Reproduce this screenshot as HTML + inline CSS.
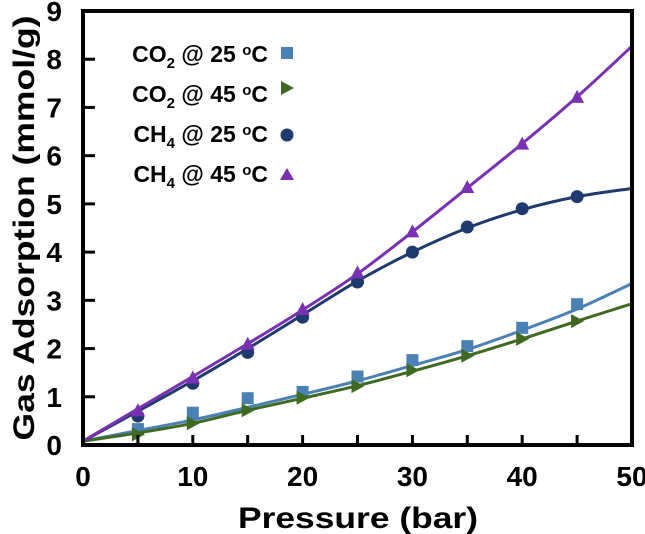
<!DOCTYPE html>
<html><head><meta charset="utf-8"><style>
body{margin:0;background:#fff}
svg{display:block;font-family:"Liberation Sans",Arial,sans-serif;font-weight:bold}
</style></head><body>
<svg id="c" width="645" height="534"></svg>
<script>
const xTicks=[0,10,20,30,40,50];
const yTicks=[0,1,2,3,4,5,6,7,8,9];
const pX=[5,10,15,20,25,30,35,40,45];
const fitX=[0,5,10,15,20,25,30,35,40,45,50];
const co2_25=[0.33,0.67,0.97,1.1,1.42,1.76,2.05,2.43,2.92];
const co2_45=[0.22,0.45,0.72,0.98,1.22,1.55,1.85,2.2,2.57];
const ch4_25=[0.6,1.28,1.92,2.65,3.38,4.0,4.52,4.9,5.15];
const ch4_45=[0.72,1.4,2.1,2.82,3.58,4.43,5.35,6.25,7.22];
const co2_25fit=[0.08,0.3,0.52,0.78,1.05,1.33,1.65,1.98,2.38,2.82,3.35];
const co2_45fit=[0.08,0.25,0.45,0.72,0.97,1.23,1.53,1.85,2.2,2.57,2.93];
const ch4_25fit=[0.08,0.7,1.33,2.0,2.7,3.4,4.0,4.5,4.88,5.15,5.32];
const ch4_45fit=[0.08,0.75,1.42,2.1,2.8,3.55,4.42,5.33,6.25,7.22,8.27];
const L=83,R=632,T=11,B=445;
const sx=v=>L+(v-0)/50*(R-L);
const sy=v=>B-v/9*(B-T);
const svg=document.getElementById('c');
const NS='http://www.w3.org/2000/svg';
function mk(t,a,p){const e=document.createElementNS(NS,t);for(const k in a)e.setAttribute(k,a[k]);(p||svg).appendChild(e);return e;}
function spline(xs,ys){const P=xs.map((x,i)=>[sx(x),sy(ys[i])]);let d='M'+P[0][0]+','+P[0][1];
for(let i=0;i<P.length-1;i++){const p0=P[Math.max(i-1,0)],p1=P[i],p2=P[i+1],p3=P[Math.min(i+2,P.length-1)];
d+=' C'+(p1[0]+(p2[0]-p0[0])/6)+','+(p1[1]+(p2[1]-p0[1])/6)+' '+(p2[0]-(p3[0]-p1[0])/6)+','+(p2[1]-(p3[1]-p1[1])/6)+' '+p2[0]+','+p2[1];}return d;}
function marker(type,x,y,col,g){
 if(type==='sq')return mk('rect',{x:x-6,y:y-6,width:12,height:12,fill:col},g);
 if(type==='ci')return mk('circle',{cx:x,cy:y,r:6.5,fill:col},g);
 if(type==='tr')return mk('polygon',{points:`${x-6},${y-7} ${x+7},${y} ${x-6},${y+7}`,fill:col},g);
 return mk('polygon',{points:`${x},${y-7} ${x+7},${y+6} ${x-7},${y+6}`,fill:col},g);}
const series=[
 {n:'co2-25c',pts:co2_25,fit:co2_25fit,col:'#4a80b3',m:'sq'},
 {n:'co2-45c',pts:co2_45,fit:co2_45fit,col:'#3f6a22',m:'tr'},
 {n:'ch4-25c',pts:ch4_25,fit:ch4_25fit,col:'#1f3a6e',m:'ci'},
 {n:'ch4-45c',pts:ch4_45,fit:ch4_45fit,col:'#7a30b2',m:'up'}];
series.forEach(s=>{
 const g=mk('g',{});
 
 
 pX.forEach((x,i)=>{const m=marker(s.m,sx(x),sy(s.pts[i]),s.col,g);
  
  });
 const p=mk('path',{d:spline(fitX,s.fit),fill:'none',stroke:s.col,'stroke-width':3},g);
 
 
});
const fr=mk('rect',{x:L,y:T,width:R-L,height:B-T,fill:'none',stroke:'#000','stroke-width':4});


for(let v=5;v<50;v+=5){mk('line',{x1:sx(v),x2:sx(v),y1:B,y2:B-10,stroke:'#000','stroke-width':3});}
yTicks.forEach(v=>{if(v>0&&v<9)mk('line',{x1:L,x2:L+12,y1:sy(v),y2:sy(v),stroke:'#000','stroke-width':3});
 const t=mk('text',{x:62,y:sy(v)+10,'text-anchor':'end','font-size':28});t.textContent=v;
 
 });
xTicks.forEach(v=>{const t=mk('text',{x:sx(v),y:486,'text-anchor':'middle','font-size':28});t.textContent=v;
 
 });
</script>
<svg width="645" height="534" style="position:absolute;left:0;top:0;font-family:'Liberation Sans',Arial,sans-serif;font-weight:bold">
<text x="358" y="528" text-anchor="middle" font-size="30" textLength="240" lengthAdjust="spacingAndGlyphs">Pressure (bar)</text>
<text transform="translate(34,228) rotate(-90)" text-anchor="middle" font-size="30" textLength="425" lengthAdjust="spacingAndGlyphs">Gas Adsorption (mmol/g)</text>
<g font-size="23">
<g><text x="268" y="62" text-anchor="end">CO<tspan font-size="15" dy="6">2</tspan><tspan dy="-6"> @ 25 </tspan><tspan font-size="15" dy="-7">o</tspan><tspan dy="7">C</tspan></text><rect x="281" y="47" width="12" height="12" fill="#4a80b3"/></g>
<g><text x="268" y="102" text-anchor="end">CO<tspan font-size="15" dy="6">2</tspan><tspan dy="-6"> @ 45 </tspan><tspan font-size="15" dy="-7">o</tspan><tspan dy="7">C</tspan></text><polygon points="281,81 294,88 281,95" fill="#3f6a22"/></g>
<g><text x="268" y="142" text-anchor="end">CH<tspan font-size="15" dy="6">4</tspan><tspan dy="-6"> @ 25 </tspan><tspan font-size="15" dy="-7">o</tspan><tspan dy="7">C</tspan></text><circle cx="287" cy="135" r="6.5" fill="#1f3a6e"/></g>
<g><text x="268" y="182" text-anchor="end">CH<tspan font-size="15" dy="6">4</tspan><tspan dy="-6"> @ 45 </tspan><tspan font-size="15" dy="-7">o</tspan><tspan dy="7">C</tspan></text><polygon points="287,168 294,180 280,180" fill="#7a30b2"/></g>
</g>
</svg>
</body></html>
